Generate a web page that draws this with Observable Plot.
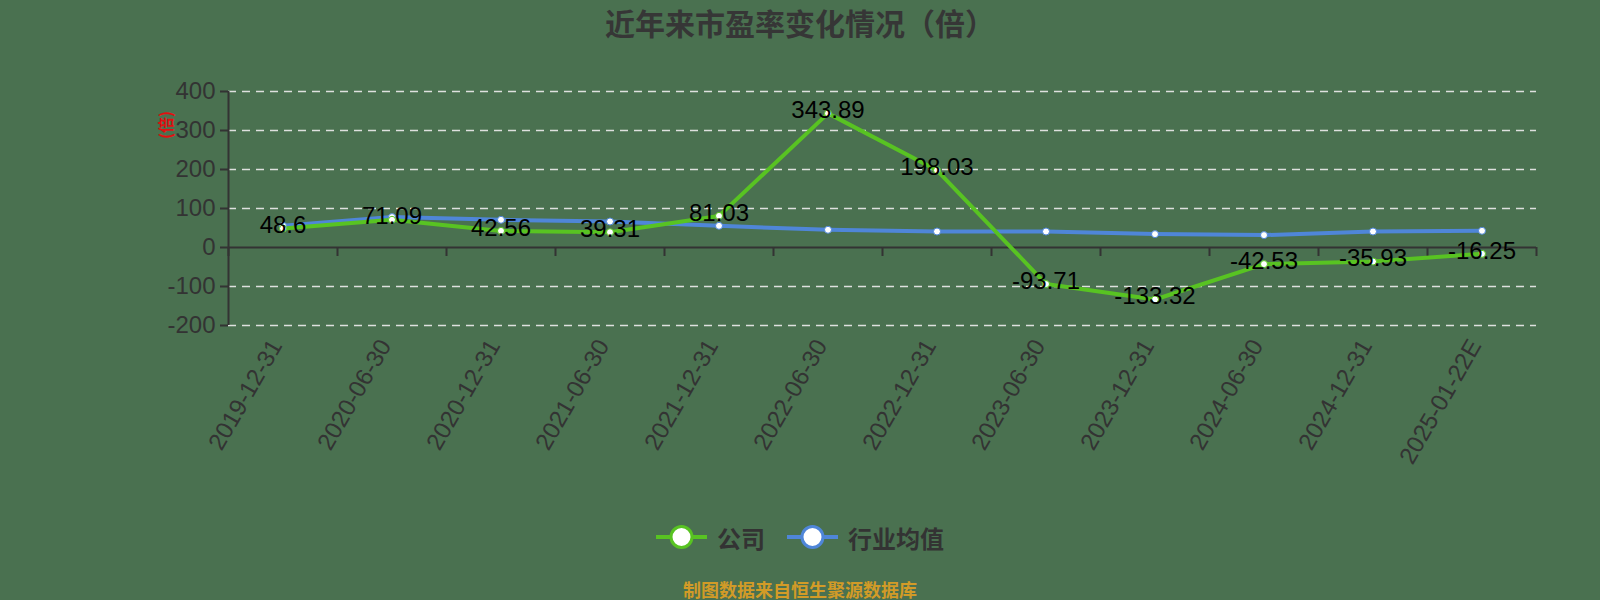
<!DOCTYPE html>
<html><head><meta charset="utf-8">
<script src="https://cdn.jsdelivr.net/npm/d3@7"></script>
<script src="https://cdn.jsdelivr.net/npm/@observablehq/plot@0.6"></script>
<style>
html,body{margin:0;padding:0;}
body{background:#4a7150;width:1600px;height:600px;overflow:hidden;position:relative;font-family:"Liberation Sans",Arial,"Noto Sans CJK SC",sans-serif;}
#title{height:45px;line-height:45px;text-align:center;font-family:"Noto Sans CJK SC",sans-serif;font-weight:bold;font-size:30px;color:#363636;}
#chart{height:450px;}
#legend{height:84px;display:flex;justify-content:center;align-items:center;gap:22px;font-family:"Noto Sans CJK SC",sans-serif;font-size:24px;font-weight:bold;color:#333;}
#legend .item{display:flex;align-items:center;gap:10px;}
#footer{height:18px;line-height:18px;text-align:center;font-family:"Noto Sans CJK SC",sans-serif;font-size:18px;font-weight:bold;color:#d29b27;margin-top:1px;}
#yname{position:absolute;left:151px;top:117px;color:#e01010;font-family:"Noto Sans CJK SC",sans-serif;font-size:16px;font-weight:bold;transform:rotate(-90deg);transform-origin:center;line-height:16px;}
</style>
</head><body>
<div id="title">近年来市盈率变化情况（倍）</div>
<div id="chart"></div>
<div id="legend"></div>
<div id="footer">制图数据来自恒生聚源数据库</div>
<div id="yname">(倍)</div>
<script>
const dates = ["2019-12-31","2020-06-30","2020-12-31","2021-06-30","2021-12-31","2022-06-30","2022-12-31","2023-06-30","2023-12-31","2024-06-30","2024-12-31","2025-01-22E"];
const company = [48.6, 71.09, 42.56, 39.31, 81.03, 343.89, 198.03, -93.71, -133.32, -42.53, -35.93, -16.25];
const industry = [55.6, 78, 71, 66.7, 55.6, 45.4, 41, 41, 34.3, 31.8, 41, 42.8];
const yTicks = [-200, -100, 0, 100, 200, 300, 400];
const seriesNames = ["公司", "行业均值"];
const seriesColors = ["#58c322", "#4f86d8"];

const rows = dates.map((d, i) => ({i, date: d, company: company[i], industry: industry[i]}));
const n = dates.length;
const xDomain = [-0.5, n - 0.5];
const boundaries = d3.range(0, n + 1).map(i => i - 0.5);

const chart = Plot.plot({
  width: 1600,
  height: 450,
  marginTop: 46,
  marginBottom: 170,
  marginLeft: 228,
  marginRight: 64,
  style: {background: "transparent", fontFamily: "'Liberation Sans', Arial, sans-serif", fontSize: "24px", color: "#333", overflow: "visible"},
  x: {domain: xDomain, axis: null},
  y: {domain: [yTicks[0], yTicks[yTicks.length - 1]]},
  marks: [
    Plot.gridY(yTicks.filter(v => v !== 0), {stroke: "#e6e6e6", strokeOpacity: 0.95, strokeDasharray: "8,6", strokeWidth: 1.5}),
    Plot.ruleY([0], {stroke: "#333", strokeWidth: 2}),
    Plot.ruleX(boundaries, {y1: 0, y2: 0, insetBottom: -9, stroke: "#333", strokeWidth: 2}),
    Plot.ruleX([xDomain[0]], {stroke: "#333", strokeWidth: 2}),
    Plot.axisY({ticks: yTicks, tickSize: 8, tickPadding: 5, tickFormat: d => String(d), fontSize: 24, color: "#333", strokeWidth: 2}),
    Plot.line(rows, {x: "i", y: "industry", stroke: seriesColors[1], strokeWidth: 4}),
    Plot.line(rows, {x: "i", y: "company", stroke: seriesColors[0], strokeWidth: 4}),
    Plot.dot(rows, {x: "i", y: "industry", r: 3.5, fill: "white", stroke: seriesColors[1], strokeWidth: 1}),
    Plot.dot(rows, {x: "i", y: "company", r: 3.5, fill: "white", stroke: seriesColors[0], strokeWidth: 1}),
    Plot.text(rows, {x: "i", y: "company", text: d => String(d.company), fontSize: 24, fill: "#000", dy: -3}),
    Plot.text(rows, {x: "i", text: "date", frameAnchor: "bottom", dy: 20, rotate: -60, textAnchor: "end", fontSize: 24, fill: "#333"})
  ]
});
document.getElementById("chart").appendChild(chart);

const legend = document.getElementById("legend");
seriesNames.forEach((name, k) => {
  const item = document.createElement("div");
  item.className = "item";
  item.innerHTML = `<svg width="51" height="26"><line x1="0" y1="13" x2="51" y2="13" stroke="${seriesColors[k]}" stroke-width="4"/><circle cx="25.5" cy="13" r="10.5" fill="white" stroke="${seriesColors[k]}" stroke-width="3"/></svg><span>${name}</span>`;
  legend.appendChild(item);
});
</script>
</body></html>
